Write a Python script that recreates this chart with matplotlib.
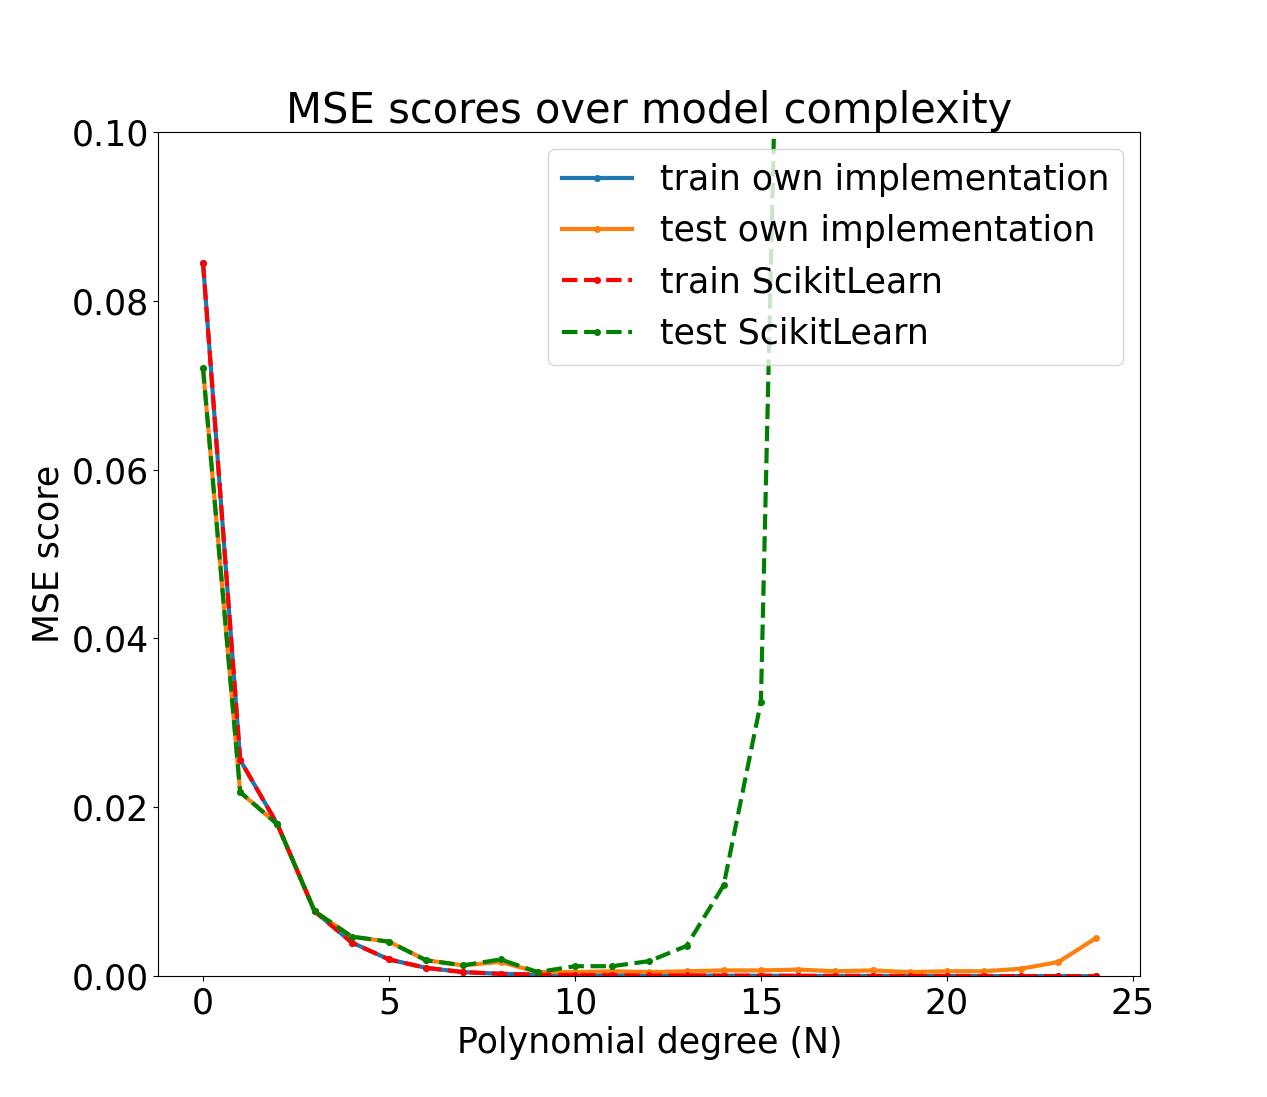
import matplotlib
matplotlib.use("Agg")
import matplotlib.pyplot as plt

degrees = list(range(25))
train_own = [0.0845, 0.0256, 0.018, 0.0077, 0.0040, 0.0020, 0.0010, 0.0005, 0.0003, 0.0002,
             0.00015, 0.00012, 0.0001, 0.0001, 0.00008, 0.00007, 0.00006, 0.00005, 0.00005, 0.00004,
             0.00004, 0.00003, 0.00003, 0.00002, 0.00002]
test_own = [0.072, 0.0218, 0.018, 0.0077, 0.0047, 0.0041, 0.0019, 0.0013, 0.0017, 0.0005,
            0.0005, 0.0006, 0.0005, 0.0006, 0.0007, 0.0007, 0.0008, 0.0006, 0.0007, 0.0005,
            0.0006, 0.0006, 0.0009, 0.0017, 0.0045]
train_sk = train_own
test_sk = [0.072, 0.0218, 0.018, 0.0077, 0.0047, 0.0041, 0.0019, 0.0013, 0.0020, 0.0005,
           0.0012, 0.0012, 0.0018, 0.0036, 0.0108, 0.0325, 0.225, 0.5, 1.0, 2.0,
           4.0, 8.0, 16.0, 30.0, 60.0]

plt.rcParams['font.size'] = 25
fig = plt.figure(figsize=(12.67, 10.97), dpi=100)
plt.plot(degrees, train_own, label="train own implementation", marker=".", ms=8, lw=3)
plt.plot(degrees, test_own, label="test own implementation", marker=".", ms=8, lw=3)
plt.plot(degrees, train_sk, "--", label="train ScikitLearn", marker=".", ms=8, lw=3, color="red")
plt.plot(degrees, test_sk, "--", label="test ScikitLearn", marker=".", ms=8, lw=3, color="green")
plt.ylim(0, 0.1)
plt.xlabel("Polynomial degree (N)")
plt.ylabel("MSE score")
plt.title("MSE scores over model complexity")
plt.legend(loc="upper right")
plt.savefig("out.png")
